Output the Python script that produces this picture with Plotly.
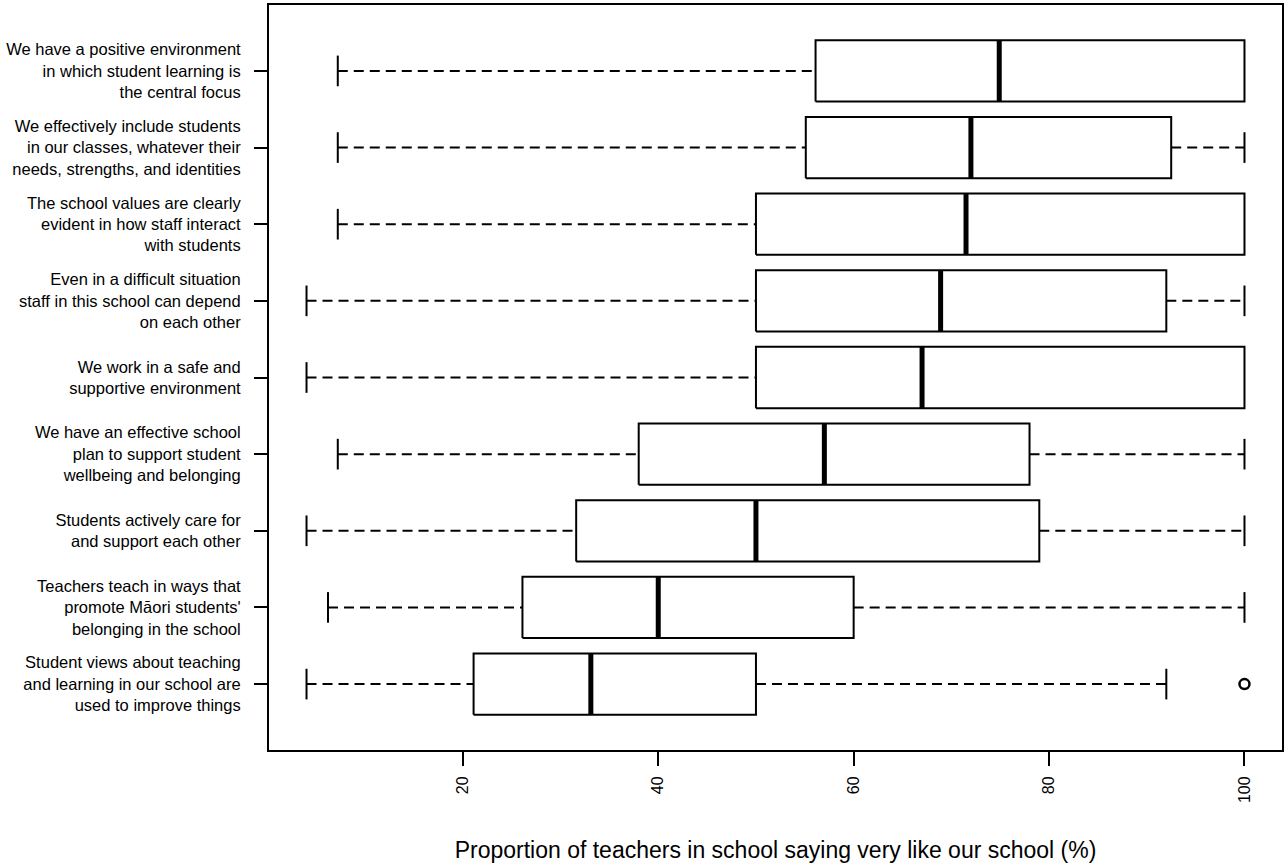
import plotly.graph_objects as go

# ---- data (top row first) ----
labels = [
    "We have a positive environment<br>in which student learning is<br>the central focus",
    "We effectively include students<br>in our classes, whatever their<br>needs, strengths, and identities",
    "The school values are clearly<br>evident in how staff interact<br>with students",
    "Even in a difficult situation<br>staff in this school can depend<br>on each other",
    "We work in a safe and<br>supportive environment",
    "We have an effective school<br>plan to support student<br>wellbeing and belonging",
    "Students actively care for<br>and support each other",
    "Teachers teach in ways that<br>promote Māori students'<br>belonging in the school",
    "Student views about teaching<br>and learning in our school are<br>used to improve things",
]
whisker_low = [7.2, 7.2, 7.2, 4.0, 4.0, 7.2, 4.0, 6.2, 4.0]
q1 =          [56.1, 55.1, 50.0, 50.0, 50.0, 38.0, 31.6, 26.1, 21.1]
median =      [74.9, 72.0, 71.5, 68.9, 67.0, 57.0, 50.0, 40.0, 33.1]
q3 =          [100.0, 92.5, 100.0, 92.0, 100.0, 78.0, 79.0, 60.0, 50.0]
whisker_high = [100.0, 100.0, 100.0, 100.0, 100.0, 100.0, 100.0, 100.0, 92.0]
outliers = [[], [], [], [], [], [], [], [], [100.0]]
x_ticks = [20, 40, 60, 80, 100]

n = len(labels)
positions = list(range(n, 0, -1))  # top row at highest position

BOX_HALF = 0.4
CAP_HALF = 0.2
LINE = "black"

fig = go.Figure()
for i, p in enumerate(positions):
    # whiskers (dashed)
    fig.add_trace(go.Scatter(x=[whisker_low[i], q1[i]], y=[p, p], mode="lines",
                             line=dict(color=LINE, width=2, dash="10px,6px"),
                             showlegend=False, hoverinfo="skip"))
    if whisker_high[i] > q3[i]:
        fig.add_trace(go.Scatter(x=[q3[i], whisker_high[i]], y=[p, p], mode="lines",
                                 line=dict(color=LINE, width=2, dash="10px,6px"),
                                 showlegend=False, hoverinfo="skip"))
    # staples
    caps = [whisker_low[i]] + ([whisker_high[i]] if whisker_high[i] > q3[i] else [])
    for c in caps:
        fig.add_trace(go.Scatter(x=[c, c], y=[p - CAP_HALF, p + CAP_HALF], mode="lines",
                                 line=dict(color=LINE, width=2),
                                 showlegend=False, hoverinfo="skip"))
    # box
    fig.add_trace(go.Scatter(
        x=[q1[i], q3[i], q3[i], q1[i], q1[i]],
        y=[p - BOX_HALF, p - BOX_HALF, p + BOX_HALF, p + BOX_HALF, p - BOX_HALF],
        mode="lines", fill="toself", fillcolor="white",
        line=dict(color=LINE, width=2), showlegend=False, hoverinfo="skip"))
    # median
    fig.add_trace(go.Scatter(x=[median[i], median[i]], y=[p - BOX_HALF, p + BOX_HALF],
                             mode="lines", line=dict(color=LINE, width=5),
                             showlegend=False, hoverinfo="skip"))
    # outliers
    if outliers[i]:
        fig.add_trace(go.Scatter(x=outliers[i], y=[p] * len(outliers[i]), mode="markers",
                                 marker=dict(symbol="circle-open", size=10, color=LINE,
                                             line=dict(width=2.5, color=LINE)),
                                 showlegend=False, hoverinfo="skip"))

fig.update_layout(
    width=1284, height=863,
    margin=dict(l=269, r=2, t=5, b=113),
    paper_bgcolor="white", plot_bgcolor="white",
    font=dict(family="Liberation Sans, Arial, sans-serif", color="black", size=16),
    xaxis=dict(range=[0.16, 103.84], tickvals=x_ticks, ticktext=[str(t) for t in x_ticks],
               tickangle=-90, ticks="outside", ticklen=14, tickwidth=2, tickcolor="black",
               showline=True, linewidth=2, linecolor="black", mirror=True,
               showgrid=False, zeroline=False, tickfont=dict(size=16),
               ticklabelstandoff=4,
               title=dict(text="Proportion of teachers in school saying very like our school (%)",
                          font=dict(size=23), standoff=40),
               automargin=False),
    yaxis=dict(range=[0.14, n + 0.86], tickvals=positions, ticktext=labels,
               ticks="outside", ticklen=13, tickwidth=2, tickcolor="black",
               showline=True, linewidth=2, linecolor="black", mirror=True,
               showgrid=False, zeroline=False, tickfont=dict(size=16.5),
               ticklabelstandoff=10,
               automargin=False),
)

fig.write_html("out.html", config={"displayModeBar": False},
               post_script="document.body.style.margin='0';")
